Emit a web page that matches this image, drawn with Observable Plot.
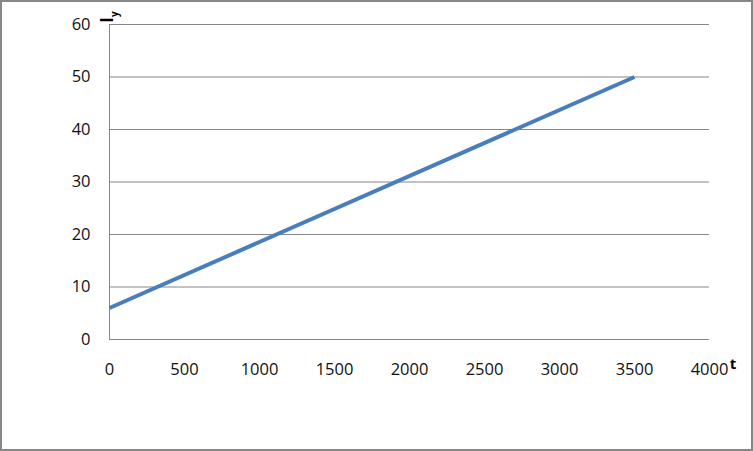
<!DOCTYPE html>
<html>
<head>
<meta charset="utf-8">
<script src="https://cdn.jsdelivr.net/npm/d3@7"></script>
<script src="https://cdn.jsdelivr.net/npm/@observablehq/plot@0.6"></script>
<style>
  body { margin: 0; background: #fff; }
  #chart svg { display: block; outline: 2px solid #878787; outline-offset: -2px; }
</style>
</head>
<body>
<div id="chart"></div>
<script>
const tValues = [0, 3500];
const iyValues = [6, 50];
const xTicks = [0, 500, 1000, 1500, 2000, 2500, 3000, 3500, 4000];
const yTicks = [0, 10, 20, 30, 40, 50, 60];
const xTitle = "t";
const yTitle = "I";
const yTitleSub = "y";

const data = tValues.map((t, i) => ({t, iy: iyValues[i]}));

const chart = Plot.plot({
  width: 753,
  height: 451,
  marginLeft: 109,
  marginRight: 44,
  marginTop: 24,
  marginBottom: 112,
  style: {fontFamily: "'Open Sans', sans-serif", color: "#000", background: "#fff"},
  x: {domain: [0, 4000]},
  y: {domain: [0, 60]},
  marks: [
    Plot.ruleY(yTicks, {stroke: "#868686", strokeWidth: 1, strokeOpacity: 1}),
    Plot.ruleX([0], {stroke: "#868686", strokeWidth: 1, strokeOpacity: 1}),
    Plot.axisX({ticks: xTicks, tickSize: 0, tickPadding: 24, tickFormat: d => String(d), fontSize: 16.5, fill: "#111", label: null}),
    Plot.axisY({ticks: yTicks, tickSize: 0, tickPadding: 19, tickFormat: d => String(d), fontSize: 16.5, fill: "#111", label: null}),
    Plot.line(data, {x: "t", y: "iy", stroke: "#4a7ebb", strokeWidth: 4, strokeLinecap: "butt"})
  ]
});

const svg = d3.select(chart);
const yt = svg.append("text")
  .attr("transform", "translate(113,17) rotate(-90)")
  .attr("font-family", "'Open Sans', sans-serif")
  .attr("font-weight", "bold")
  .attr("font-size", 17)
  .attr("fill", "#000")
  .text(yTitle);
yt.append("tspan").attr("dy", 5).attr("font-size", 10).text(yTitleSub);

svg.append("text")
  .attr("x", 733)
  .attr("y", 369)
  .attr("font-family", "'Open Sans', sans-serif")
  .attr("font-weight", "bold")
  .attr("font-size", 15)
  .attr("fill", "#000")
  .text(xTitle);

document.getElementById("chart").appendChild(chart);
</script>
</body>
</html>
